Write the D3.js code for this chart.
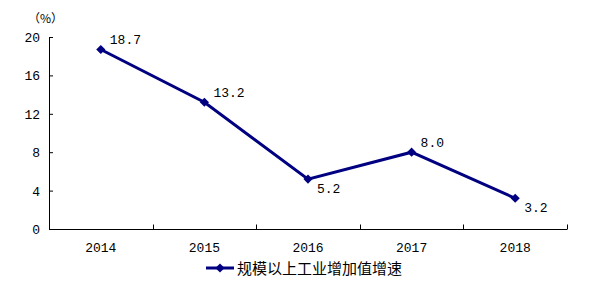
<!DOCTYPE html>
<html>
<head>
<meta charset="utf-8">
<script src="https://cdn.jsdelivr.net/npm/d3@7"></script>
<style>
  body { margin: 0; background: #fff; }
  svg text { font-family: "Liberation Mono", "DejaVu Sans Mono", monospace; font-size: 13px; fill: #000; }
</style>
</head>
<body>
<div id="chart"></div>
<script>
var years = ['2014', '2015', '2016', '2017', '2018']
var growth = [18.7, 13.2, 5.2, 8.0, 3.2]
var yTicks = [0, 4, 8, 12, 16, 20]
var seriesName = '规模以上工业增加值增速'
// label above (true) or below (false) the point
var labelAbove = [true, true, false, true, false]

var width = 590, height = 282
var margin = { left: 49, right: 23, top: 37, bottom: 53 }
var color = '#000080'

var svg = d3.select('#chart').append('svg')
  .attr('width', width)
  .attr('height', height)

var x = d3.scaleBand()
  .domain(years)
  .range([margin.left, width - margin.right])

var y = d3.scaleLinear()
  .domain([0, 20])
  .range([height - margin.bottom, margin.top])

// y axis, ticks pointing inward
var yAxis = svg.append('g')
  .attr('transform', 'translate(' + margin.left + ',0)')
  .call(d3.axisRight(y).tickValues(yTicks).tickSize(4).tickFormat(d3.format('d')))
yAxis.select('.domain').attr('d', 'M0.5,' + y(20) + 'V' + (y(0) + 0.5))
yAxis.selectAll('line').attr('stroke', '#000')
yAxis.selectAll('text')
  .attr('x', -9)
  .attr('text-anchor', 'end')
  .attr('dy', '0.35em')

svg.append('text')
  .attr('x', 28)
  .attr('y', 23)
  .style('font-family', '"Noto Sans CJK SC", sans-serif')
  .style('font-size', '12px')
  .text('（%）')

// x axis with ticks at band boundaries
var x0 = y(0) + 0.5
svg.append('line')
  .attr('x1', margin.left).attr('x2', width - margin.right)
  .attr('y1', x0).attr('y2', x0)
  .attr('stroke', '#000')
var bounds = years.map(function (d) { return x(d) }).concat([x.range()[1]])
svg.selectAll('.xtick').data(bounds.slice(1))
  .enter().append('line')
  .attr('class', 'xtick')
  .attr('x1', function (d) { return Math.round(d) + 0.5 })
  .attr('x2', function (d) { return Math.round(d) + 0.5 })
  .attr('y1', x0).attr('y2', x0 - 5)
  .attr('stroke', '#000')
svg.selectAll('.xlabel').data(years)
  .enter().append('text')
  .attr('x', function (d) { return x(d) + x.bandwidth() / 2 })
  .attr('y', 252)
  .attr('text-anchor', 'middle')
  .text(function (d) { return d })

var pts = years.map(function (d, i) { return { year: d, v: growth[i], up: labelAbove[i] } })
var cx = function (d) { return x(d.year) + x.bandwidth() / 2 }

svg.append('path')
  .datum(pts)
  .attr('fill', 'none')
  .attr('stroke', color)
  .attr('stroke-width', 3)
  .attr('d', d3.line().x(cx).y(function (d) { return y(d.v) }))

// square turned 45 degrees
var diamond = d3.symbol().type(d3.symbolSquare).size(42)
svg.selectAll('.pt').data(pts)
  .enter().append('path')
  .attr('class', 'pt')
  .attr('fill', color)
  .attr('transform', function (d) { return 'translate(' + cx(d) + ',' + y(d.v) + ') rotate(45)' })
  .attr('d', diamond)

svg.selectAll('.val').data(pts)
  .enter().append('text')
  .attr('class', 'val')
  .attr('x', function (d) { return cx(d) + 9 })
  .attr('y', function (d) { return y(d.v) + (d.up ? -5 : 14) })
  .text(function (d) { return d.v.toFixed(1) })

// legend
var ly = 268
var lg = svg.append('g')
lg.append('line')
  .attr('x1', 206).attr('x2', 234)
  .attr('y1', ly).attr('y2', ly)
  .attr('stroke', color).attr('stroke-width', 3)
lg.append('path')
  .attr('fill', color)
  .attr('transform', 'translate(220,' + ly + ') rotate(45)')
  .attr('d', diamond)
lg.append('text')
  .attr('x', 237)
  .attr('y', ly + 6)
  .style('font-family', '"Noto Sans CJK SC", sans-serif')
  .style('font-size', '15px')
  .text(seriesName)
</script>
</body>
</html>
